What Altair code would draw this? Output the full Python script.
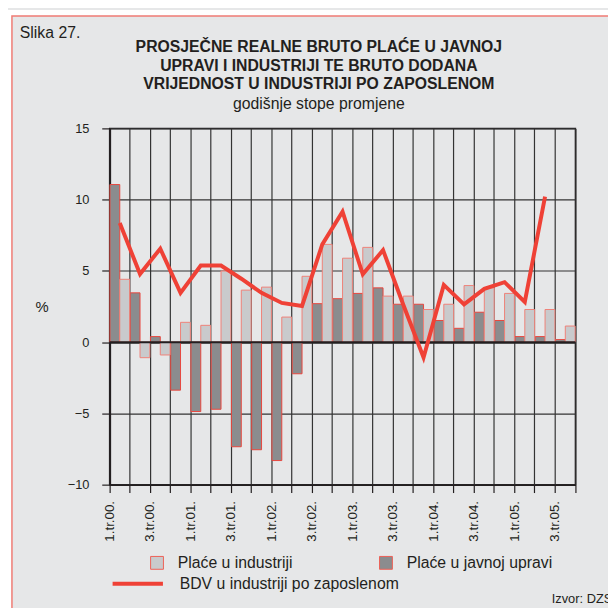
import altair as alt
import pandas as pd

quarters = ["1.tr.00.", "2.tr.00.", "3.tr.00.", "4.tr.00.",
            "1.tr.01.", "2.tr.01.", "3.tr.01.", "4.tr.01.",
            "1.tr.02.", "2.tr.02.", "3.tr.02.", "4.tr.02.",
            "1.tr.03.", "2.tr.03.", "3.tr.03.", "4.tr.03.",
            "1.tr.04.", "2.tr.04.", "3.tr.04.", "4.tr.04.",
            "1.tr.05.", "2.tr.05.", "3.tr.05."]

place_industrija = [4.41, -1.09, -0.90, 1.39, 1.18, 4.99, 3.65, 3.86, 1.76, 4.62,
                    6.86, 5.89, 6.65, 3.23, 3.23, 2.29, 2.66, 3.97, 3.81, 3.42,
                    2.29, 2.29, 1.13]
place_uprava = [11.06, 3.46, 0.39, -3.37, -4.87, -4.71, -7.34, -7.55, -8.31, -2.22,
                2.70, 3.05, 3.42, 3.81, 2.66, 2.66, 1.52, 0.97, 2.10, 1.52,
                0.39, 0.39, 0.18]
bdv_kvartali = quarters[:22]
bdv = [8.36, 4.78, 6.56, 3.46, 5.38, 5.38, 4.45, 3.46, 2.75, 2.54,
       6.86, 9.15, 4.76, 6.46, 2.62, -1.08, 4.02, 2.65, 3.74, 4.21,
       2.82, 10.22]

naslov = ["PROSJEČNE REALNE BRUTO PLAĆE U JAVNOJ",
          "UPRAVI I INDUSTRIJI TE BRUTO DODANA",
          "VRIJEDNOST U INDUSTRIJI PO ZAPOSLENOM"]
podnaslov = "godišnje stope promjene"

S_IND = "Plaće u industriji"
S_UPR = "Plaće u javnoj upravi"
S_BDV = "BDV u industriji po zaposlenom"

bars = pd.DataFrame({
    "kvartal": quarters * 2,
    "serija": [S_IND] * len(quarters) + [S_UPR] * len(quarters),
    "vrijednost": place_industrija + place_uprava,
})
line_df = pd.DataFrame({"kvartal": bdv_kvartali, "serija": S_BDV, "vrijednost": bdv})
one = pd.DataFrame({"a": [0]})

FONT = "Liberation Sans"
INK = "#231f20"
W, H = 472, 361
BAND = W / len(quarters)

x_enc = alt.X(
    "kvartal:N", sort=quarters,
    scale=alt.Scale(domain=quarters, paddingInner=0, paddingOuter=0),
    axis=alt.Axis(
        title=None, grid=True, gridColor="#333333", gridWidth=1.2,
        bandPosition=1, tickExtra=True, tickSize=8, tickColor=INK, tickWidth=1.2,
        domainColor=INK, domainWidth=1.5,
        labelAngle=270, labelAlign="right", labelBaseline="middle",
        labelFont=FONT, labelFontSize=13.5, labelColor=INK, labelPadding=8,
        labelOffset=-BAND / 2,
        labelExpr="test(/^[13]\\./, datum.label) ? datum.label : ''",
    ),
)
y_enc = alt.Y(
    "vrijednost:Q", stack=None,
    scale=alt.Scale(domain=[-10, 15], nice=False),
    axis=alt.Axis(
        values=[-10, -5, 0, 5, 10, 15], grid=True, gridColor="#333333", gridWidth=1.2,
        tickSize=8, tickColor=INK, tickWidth=1.2, domainColor=INK, domainWidth=2,
        labelFont=FONT, labelFontSize=13, labelColor=INK, labelPadding=13,
        title="%", titleAngle=0, titleX=-69, titleY=181, titleAlign="center",
        titleBaseline="middle", titleFont=FONT, titleFontSize=15,
        titleFontWeight="normal", titleColor=INK,
    ),
)
xoff = alt.XOffset("serija:N", scale=alt.Scale(domain=[S_UPR, S_IND], paddingInner=0, paddingOuter=0.03))
fill_enc = alt.Fill(
    "serija:N",
    scale=alt.Scale(domain=[S_IND, S_UPR], range=["#c9cacc", "#8b8c8e"]),
    legend=alt.Legend(
        title=None, orient="none", legendX=40, legendY=432, direction="horizontal",
        symbolType="square", symbolSize=169, symbolStrokeColor="#ee5f55",
        symbolStrokeWidth=1, symbolOpacity=1,
        labelFont=FONT, labelFontSize=16, labelColor=INK, labelOffset=13,
        labelLimit=400, columnPadding=85, padding=0,
    ),
)


def bar_layer(series, stroke):
    return alt.Chart(bars).transform_filter(alt.datum.serija == series).mark_bar(
        stroke=stroke, strokeWidth=1
    ).encode(x=x_enc, xOffset=xoff, y=y_enc, fill=fill_enc)


bars_upr = bar_layer(S_UPR, "#e8463d")
bars_ind = bar_layer(S_IND, "#ef8178")

zero = alt.Chart(one).mark_rule(color=INK, strokeWidth=2).encode(y=alt.datum(0))

line = alt.Chart(line_df).mark_line(strokeWidth=4).encode(
    x=x_enc, y=y_enc,
    stroke=alt.Stroke(
        "serija:N", scale=alt.Scale(domain=[S_BDV], range=["#ef4136"]),
        legend=alt.Legend(
            title=None, orient="none", legendX=1, legendY=434,
            symbolType="stroke", symbolSize=2601, symbolStrokeWidth=4,
            labelFont=FONT, labelFontSize=16, labelColor=INK, labelOffset=15,
            labelLimit=400, padding=0,
        ),
    ),
)


def txt(s, x, y, size=16, weight="normal", align="left"):
    return alt.Chart(one).mark_text(
        text=s, font=FONT, fontSize=size, fontWeight=weight, color=INK,
        align=align, baseline="middle",
    ).encode(x=alt.value(x), y=alt.value(y))


texts = [
    txt("Slika 27.", -91, -97),
    txt(naslov[0], 212, -82, weight="bold", align="center"),
    txt(naslov[1], 212, -63, weight="bold", align="center"),
    txt(naslov[2], 212, -45, weight="bold", align="center"),
    txt(podnaslov, 212, -25, align="center"),
    txt("Izvor: DZS", 448, 477, size=13),
]

white_left = alt.Chart(one).mark_rect(color="white").encode(
    x=alt.value(-104), x2=alt.value(-99), y=alt.value(-120), y2=alt.value(500))
white_top = alt.Chart(one).mark_rect(color="white").encode(
    x=alt.value(-104), x2=alt.value(520), y=alt.value(-120), y2=alt.value(-114))
border = alt.Chart(one).mark_rect(fill=None, stroke="#f07b74", strokeWidth=1.5).encode(
    x=alt.value(-99), x2=alt.value(540), y=alt.value(-114), y2=alt.value(540))

chart = alt.layer(
    white_left, white_top, border, bars_upr, bars_ind, zero, line, *texts
).properties(
    width=W, height=H,
    padding={"left": 103, "top": 118, "right": 33, "bottom": 121},
    autosize=alt.AutoSizeParams(type="none"),
).configure(background="#e6e7e8").configure_view(stroke=INK, strokeWidth=1.5)

chart.save("out.html", embed_options={"renderer": "svg", "actions": False})
